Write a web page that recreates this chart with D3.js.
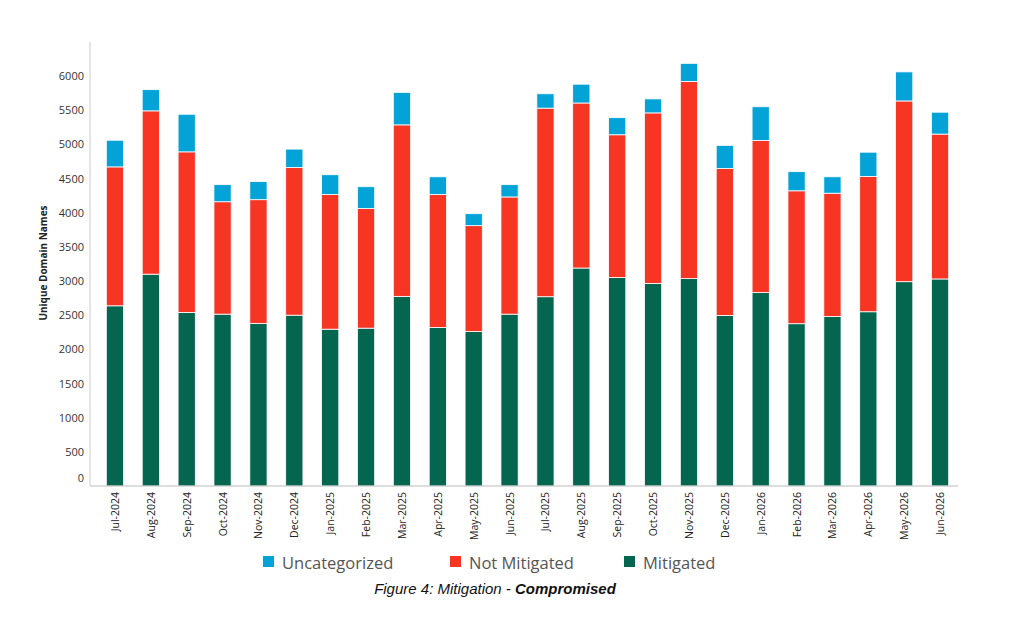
<!DOCTYPE html>
<html><head><meta charset="utf-8">
<script src="https://cdn.jsdelivr.net/npm/d3@7"></script>
<style>body{margin:0;background:#fff}</style></head>
<body><svg id="c" width="1024" height="642"></svg>
<script>
const months=["Jul-2024","Aug-2024","Sep-2024","Oct-2024","Nov-2024","Dec-2024","Jan-2025","Feb-2025","Mar-2025","Apr-2025","May-2025","Jun-2025","Jul-2025","Aug-2025","Sep-2025","Oct-2025","Nov-2025","Dec-2025","Jan-2026","Feb-2026","Mar-2026","Apr-2026","May-2026","Jun-2026"];
const mitigated=[2637,3100,2540,2515,2380,2500,2295,2310,2775,2320,2260,2515,2770,3190,3050,2965,3035,2495,2830,2375,2480,2550,2990,3030];
const notMitigated=[2033,2390,2350,1645,1810,2160,1970,1750,2510,1945,1550,1715,2760,2415,2090,2495,2885,2150,2225,1945,1805,1980,2645,2120];
const uncategorized=[390,310,550,250,265,270,290,320,475,260,175,180,210,275,250,205,265,340,495,280,240,355,425,320];
const yTicks=[0,500,1000,1500,2000,2500,3000,3500,4000,4500,5000,5500,6000];
const seriesNames=["Uncategorized","Not Mitigated","Mitigated"];
const colors={"Mitigated":"#04664f","Not Mitigated":"#f73523","Uncategorized":"#03a3d8"};

const svg=d3.select("#c");
const x=d3.scaleBand().domain(months).range([97,958]).paddingInner(0.52).paddingOuter(0.26);
const y=d3.scaleLinear().domain([0,6000]).range([486,76]);
const data=months.map((m,i)=>({m,"Mitigated":mitigated[i],"Not Mitigated":notMitigated[i],"Uncategorized":uncategorized[i]}));
const stack=d3.stack().keys(["Mitigated","Not Mitigated","Uncategorized"])(data);
svg.append("g").selectAll("g").data(stack).join("g").attr("fill",d=>colors[d.key])
 .selectAll("rect").data(d=>d).join("rect")
 .attr("x",d=>x(d.data.m)).attr("width",x.bandwidth())
 .attr("y",d=>y(d[1])).attr("height",d=>y(d[0])-y(d[1]))
 .attr("stroke","#fff").attr("stroke-width",0.8);
// axes
svg.append("line").attr("x1",90).attr("x2",90).attr("y1",42).attr("y2",486).attr("stroke","#ccc");
svg.append("line").attr("x1",90).attr("x2",958).attr("y1",486).attr("y2",486).attr("stroke","#bbb");
svg.append("g").selectAll("text").data(yTicks).join("text")
 .attr("x",84).attr("y",d=>d===0?y(d)-4:y(d)+4).attr("text-anchor","end")
 .attr("font-family","Open Sans, sans-serif").attr("font-size",11).attr("fill","#333").text(d=>d);
svg.append("text").attr("transform","translate(47,263) rotate(-90)").attr("text-anchor","middle")
 .attr("font-family","Open Sans, sans-serif").attr("font-size",10).attr("font-weight","bold").attr("fill","#222").text("Unique Domain Names");
svg.append("g").selectAll("text").data(months).join("text")
 .attr("transform",d=>`translate(${x(d)+x.bandwidth()/2+4},492) rotate(-90)`).attr("text-anchor","end")
 .attr("font-family","Open Sans, sans-serif").attr("font-size",10.5).attr("fill","#222").text(d=>d);
// legend
const lx=[263,450,624];
const lg=svg.append("g").selectAll("g").data(seriesNames).join("g").attr("transform",(d,i)=>`translate(${lx[i]},556)`);
lg.append("rect").attr("width",11).attr("height",11).attr("fill",d=>colors[d]);
lg.append("text").attr("x",19).attr("y",13).attr("font-family","Open Sans, sans-serif").attr("font-size",16.5).attr("fill","#555").text(d=>d);
const cap=svg.append("text").attr("x",495).attr("y",594).attr("text-anchor","middle")
 .attr("font-family","Liberation Sans, Arial, sans-serif").attr("font-size",15).attr("font-style","italic").attr("fill","#111");
cap.append("tspan").text("Figure 4: Mitigation - ");
cap.append("tspan").attr("font-weight","bold").text("Compromised");
</script></body></html>
